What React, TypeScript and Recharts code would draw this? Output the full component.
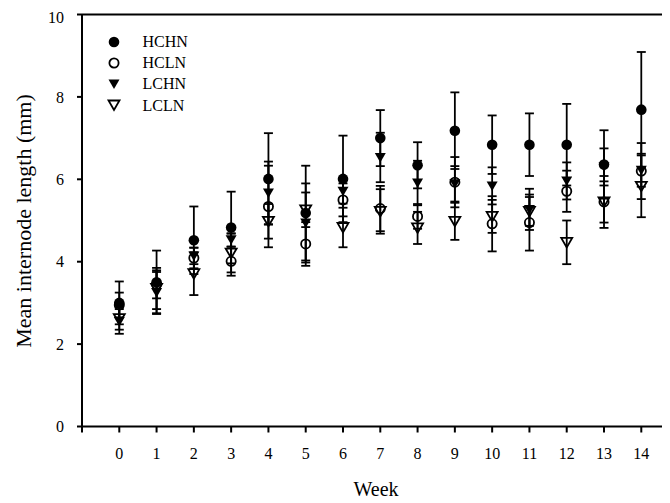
import React from 'react';
import {
  ScatterChart,
  Scatter,
  XAxis,
  YAxis,
  ErrorBar,
  ReferenceLine
} from 'recharts';

const weeks = [0, 1, 2, 3, 4, 5, 6, 7, 8, 9, 10, 11, 12, 13, 14];

// means (mm)
const hchn = [3.0, 3.5, 4.52, 4.83, 6.01, 5.18, 6.01, 7.0, 6.34, 7.18, 6.84, 6.84, 6.84, 6.36, 7.69];
const hcln = [2.95, 3.45, 4.09, 4.01, 5.34, 4.43, 5.5, 5.29, 5.1, 5.93, 4.92, 4.95, 5.71, 5.45, 6.2];
const lchn = [2.55, 3.25, 4.14, 4.53, 5.67, 4.94, 5.71, 6.53, 5.91, 5.89, 5.84, 5.27, 5.96, 6.3, 6.22];
const lcln = [2.62, 3.35, 3.71, 4.21, 4.98, 5.26, 4.83, 5.22, 4.82, 4.98, 5.1, 5.22, 4.47, 5.45, 5.83];

// error bar half-lengths
const hchnErr = [0.52, 0.77, 0.82, 0.87, 1.11, 1.15, 1.05, 0.68, 0.56, 0.93, 0.71, 0.76, 0.99, 0.83, 1.4];
const hclnErr = [0.3, 0.34, 0.25, 0.35, 0.99, 0.53, 0.4, 0.55, 0.3, 0.61, 0.67, 0.68, 0.5, 0.63, 0.68];
const lchnErr = [0.3, 0.5, 0.2, 0.16, 0.76, 0.96, 0.3, 0.6, 0.54, 0.43, 0.45, 0.5, 0.45, 0.45, 0.4];
const lclnErr = [0.27, 0.5, 0.52, 0.47, 0.42, 0.42, 0.48, 0.54, 0.39, 0.45, 0.4, 0.35, 0.53, 0.5, 0.75];

const xTicks = [-1, ...weeks];
const yTicks = [0, 2, 4, 6, 8, 10];

const FONT = '"Liberation Serif", "Times New Roman", serif';

const toRows = (vals: number[], errs: number[]) =>
  weeks.map((w, i) => ({ week: w, value: vals[i], err: errs[i] }));

const FilledCircle = (p: any) => <circle cx={p.cx} cy={p.cy} r={5.3} fill="#000" />;
const OpenCircle = (p: any) => (
  <circle cx={p.cx} cy={p.cy} r={4.6} fill="none" stroke="#000" strokeWidth={1.8} />
);
const triPoints = (cx: number, cy: number) =>
  `${cx - 5.5},${cy - 4.5} ${cx + 5.5},${cy - 4.5} ${cx},${cy + 5}`;
const FilledTri = (p: any) => <polygon points={triPoints(p.cx, p.cy)} fill="#000" />;
const OpenTri = (p: any) => (
  <polygon points={triPoints(p.cx, p.cy)} fill="none" stroke="#000" strokeWidth={1.8} />
);

const series = [
  { name: 'HCHN', vals: hchn, errs: hchnErr, shape: FilledCircle },
  { name: 'LCHN', vals: lchn, errs: lchnErr, shape: FilledTri },
  { name: 'HCLN', vals: hcln, errs: hclnErr, shape: OpenCircle },
  { name: 'LCLN', vals: lcln, errs: lclnErr, shape: OpenTri }
];

const legendOrder = ['HCHN', 'HCLN', 'LCHN', 'LCLN'];

const ChartLegend = () => (
  <div
    style={{
      position: 'absolute',
      left: 99,
      top: 23,
      fontFamily: FONT,
      fontSize: 16,
      color: '#000'
    }}
  >
    {legendOrder.map((n) => {
      const s = series.find((x) => x.name === n)!;
      const Shape = s.shape;
      return (
        <div key={n} style={{ display: 'flex', alignItems: 'center', height: 21.2 }}>
          <svg width={14} height={14} style={{ overflow: 'visible' }}>
            <Shape cx={7} cy={7} />
          </svg>
          <span style={{ marginLeft: 21.5, lineHeight: '21px' }}>{n}</span>
        </div>
      );
    })}
  </div>
);

const YTitle = () => (
  <text
    x={15}
    y={213}
    transform="rotate(-90 15 213)"
    textAnchor="middle"
    dominantBaseline="central"
    fontFamily={FONT}
    fontSize={22}
    fill="#000"
  >
    Mean internode length (mm)
  </text>
);

const XTitle = () => (
  <text x={368} y={481} textAnchor="middle" dominantBaseline="central" fontFamily={FONT} fontSize={20} fill="#000">
    Week
  </text>
);

export default function App() {
  return (
    <div style={{ position: 'relative', width: 662, height: 495 }}>
      <ScatterChart
        width={662}
        height={495}
        margin={{ top: 6.5, right: 0, bottom: 16.5, left: 0 }}
        style={{ fontFamily: FONT }}
      >
        <XAxis
          type="number"
          dataKey="week"
          domain={[-1, 14.77]}
          allowDataOverflow
          ticks={xTicks}
          tickFormatter={(v: number) => (v < 0 ? '' : String(v))}
          height={60}
          tickSize={6}
          tickMargin={15}
          stroke="#000"
          strokeWidth={2}
          tick={{ fill: '#000', fontSize: 16, fontFamily: FONT }}
          label={<XTitle />}
        />
        <YAxis
          type="number"
          dataKey="value"
          domain={[0, 10]}
          ticks={yTicks}
          width={74}
          tickSize={5}
          tickMargin={13}
          stroke="#000"
          strokeWidth={2}
          tick={{ fill: '#000', fontSize: 16, fontFamily: FONT }}
          label={<YTitle />}
        />
        <ReferenceLine y={10} stroke="#000" strokeWidth={2} />
        {series.map((s) => (
          <Scatter
            key={s.name}
            name={s.name}
            data={toRows(s.vals, s.errs)}
            shape={s.shape}
            isAnimationActive={false}
          >
            <ErrorBar dataKey="err" direction="y" width={4.5} stroke="#000" strokeWidth={1.8} />
          </Scatter>
        ))}
      </ScatterChart>
      <ChartLegend />
    </div>
  );
}
